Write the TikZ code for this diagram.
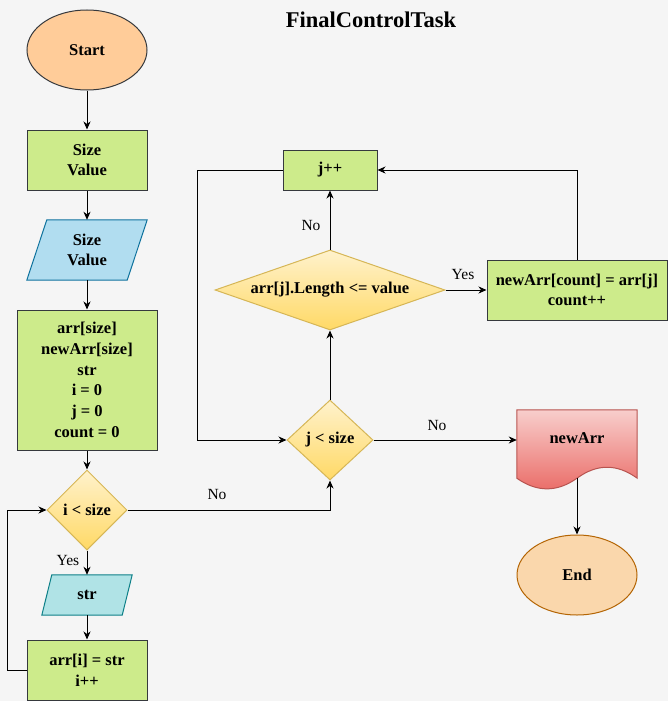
\documentclass[tikz,border=0pt]{standalone}
\usepackage{fontspec}
\setmainfont{Liberation Serif}
\usetikzlibrary{shapes.geometric,arrows.meta}

\definecolor{pagebg}{HTML}{F5F5F5}
\definecolor{darkline}{HTML}{36393D}
\definecolor{termfill}{HTML}{FFCC99}
\definecolor{endfill}{HTML}{FAD7AC}
\definecolor{endline}{HTML}{B46504}
\definecolor{procfill}{HTML}{CDEB8B}
\definecolor{inpfill}{HTML}{B1DDF0}
\definecolor{inpline}{HTML}{10739E}
\definecolor{strfill}{HTML}{B0E3E6}
\definecolor{strline}{HTML}{0E8088}
\definecolor{decA}{HTML}{FFF2CC}
\definecolor{decB}{HTML}{FFD966}
\definecolor{decline}{HTML}{D6B656}
\definecolor{docA}{HTML}{F8CECC}
\definecolor{docB}{HTML}{EA6B66}
\definecolor{docline}{HTML}{B85450}

\pgfdeclarelayer{back}
\pgfdeclarelayer{shapes}
\pgfsetlayers{back,shapes,main}

\tikzset{
  txt/.style={font=\bfseries\fontsize{16.5}{20.7}\selectfont, align=center, inner sep=0pt},
  lbl/.style={font=\fontsize{15.5}{18}\selectfont, inner sep=0pt},
  terminal/.style={txt, ellipse, draw=darkline, fill=termfill, line width=1pt,
    minimum width=120pt, minimum height=80pt},
  process/.style={txt, rectangle, draw=darkline, fill=procfill, line width=1pt},
  iobox/.style={txt, rectangle, draw=none},
  decision/.style={txt, diamond, draw=decline, line width=1pt,
    top color=decA, bottom color=decB},
  flow/.style={line width=1pt, -{Stealth[length=8pt,width=7pt,inset=2.5pt]}},
  plain/.style={line width=1pt},
}

\begin{document}
\begin{tikzpicture}[x=1pt,y=-1pt]
  \begin{pgfonlayer}{back}
    \fill[pagebg] (0,0) rectangle (668,701);
  \end{pgfonlayer}
  \useasboundingbox (0,0) rectangle (668,701);

  % title
  \node[font=\bfseries\fontsize{22.5}{27}\selectfont, inner sep=0pt] (title) at (371,20) {FinalControlTask};

  % left column
  \node[terminal] (start) at (87,50) {Start};
  \node[process, minimum width=120pt, minimum height=60pt] (sv) at (87,160) {Size\\Value};
  \node[iobox, minimum width=100pt, minimum height=60pt] (svin) at (87,250) {Size\\Value};
  \node[process, minimum width=140pt, minimum height=140pt] (init) at (87,380)
    {arr[size]\\newArr[size]\\str\\i = 0\\j = 0\\count = 0};
  \node[decision, minimum width=80pt, minimum height=80pt] (ic) at (87,510) {\makebox[0pt]{i < size}};
  \node[iobox, minimum width=80pt, minimum height=40pt] (strin) at (87,595) {str};
  \node[process, minimum width=120pt, minimum height=60pt] (ai) at (87,670) {arr[i] = str\\i++};

  % parallelogram outlines behind the input nodes
  \begin{pgfonlayer}{shapes}
    \filldraw[fill=inpfill, draw=inpline, line width=1pt]
      ([xshift=-10pt]svin.south west) -- ([xshift=10pt]svin.north west) --
      ([xshift=10pt]svin.north east) -- ([xshift=-10pt]svin.south east) -- cycle;
    \filldraw[fill=strfill, draw=strline, line width=1pt]
      ([xshift=-5pt]strin.south west) -- ([xshift=5pt]strin.north west) --
      ([xshift=5pt]strin.north east) -- ([xshift=-5pt]strin.south east) -- cycle;
  \end{pgfonlayer}

  % inner loop
  \node[process, minimum width=94pt, minimum height=40pt] (jpp) at (330,170) {j++};
  \node[decision, minimum width=230pt, minimum height=80pt] (len) at (330,290)
    {\makebox[0pt]{arr[j].Length <= value}};
  \node[process, minimum width=180pt, minimum height=60pt] (put) at (577,290)
    {newArr[count] = arr[j]\\count++};
  \node[decision, minimum width=86pt, minimum height=80pt] (jc) at (330,440) {\makebox[0pt]{j < size}};

  % output document and end
  \node[draw=none, minimum width=120pt, minimum height=68pt, inner sep=0pt] (doc) at (577,444) {};
  \begin{pgfonlayer}{shapes}
    \path[draw=docline, line width=1pt, top color=docA, bottom color=docB]
      (doc.north west) -- (doc.north east) -- (doc.south east)
      .. controls (617,463.6) and (597,463.6) .. (doc.south)
      .. controls (557,492.4) and (537,492.4) .. (doc.south west) -- cycle;
  \end{pgfonlayer}
  \node[txt] (doctext) at (577,438) {newArr};
  \node[terminal, fill=endfill, draw=endline] (end) at (577,575) {End};

  % connectors
  \draw[flow] (start) -- (sv);
  \draw[flow] (sv) -- (svin);
  \draw[flow] (svin) -- (init);
  \draw[flow] (init) -- (ic);
  \draw[flow] (ic) -- (strin);
  \draw[flow] (strin) -- (ai);
  \coordinate (loopi) at (7,670);
  \draw[flow] (ai.west) -- (loopi) |- (ic.west);
  \draw[flow] (ic.east) -| (jc.south);
  \draw[flow] (jc.north) -- (len.south);
  \draw[flow] (len.north) -- (jpp.south);
  \draw[flow] (len.east) -- (put.west);
  \draw[flow] (put.north) |- (jpp.east);
  \coordinate (loopj) at (197,170);
  \draw[flow] (jpp.west) -- (loopj) |- (jc.west);
  \draw[flow] (jc.east) -- (jc.east -| doc.west);
  \draw[flow] (doc.south) -- (end.north);

  % connector labels
  \node[lbl] (yes1) at (68,560) {Yes};
  \node[lbl] (no1) at (217,494) {No};
  \node[lbl] (no2) at (311,225) {No};
  \node[lbl] (yes2) at (463,274) {Yes};
  \node[lbl] (no3) at (437,425) {No};
\end{tikzpicture}
\end{document}
